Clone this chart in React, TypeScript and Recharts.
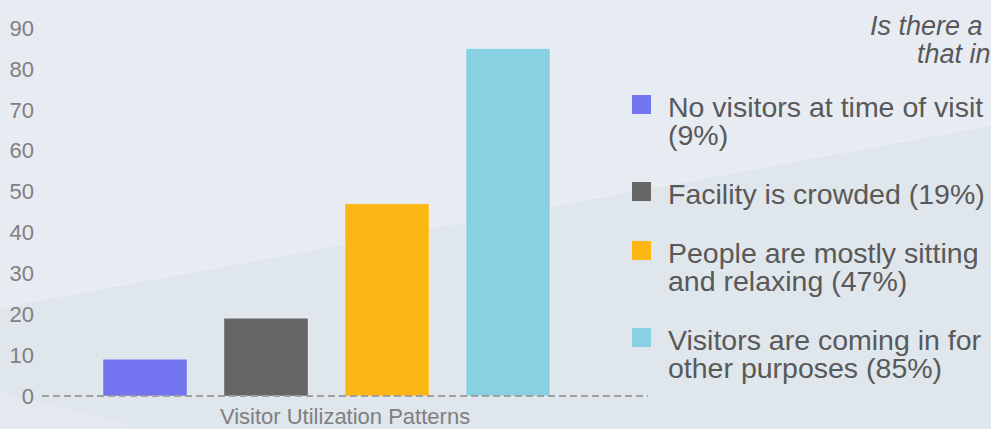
import React from "react";
import { BarChart, Bar, XAxis, YAxis, Legend } from "recharts";

const category = "Visitor Utilization Patterns";
const seriesNames = [
  "No visitors at time of visit",
  "Facility is crowded",
  "People are mostly sitting and relaxing",
  "Visitors are coming in for other purposes",
];
const seriesValues = [9, 19, 47, 85];
const seriesColors = ["#7375F0", "#666666", "#FDB714", "#89D0E2"];
const yTicks = [0, 10, 20, 30, 40, 50, 60, 70, 80, 90];
const titleLines = ["Is there a", "that in"];

const keys = seriesNames.map((_, i) => `s${i}`);
const chartData = [
  keys.reduce<Record<string, string | number>>(
    (row, k, i) => {
      row[k] = seriesValues[i];
      return row;
    },
    { name: category }
  ),
];

const FONT = '"Liberation Sans", Arial, sans-serif';

// legend keeps the series order (recharts 3 sorts by name otherwise)
function LegendList({ payload }: { payload?: { dataKey?: string; value: string; color: string }[] }) {
  const items = [...(payload || [])].sort(
    (a, b) => keys.indexOf(String(a.dataKey)) - keys.indexOf(String(b.dataKey))
  );
  return (
    <div>
      {items.map((item) => (
        <div key={item.value} style={{ display: "flex", alignItems: "flex-start", marginBottom: 31 }}>
          <span style={{ width: 19, height: 19, marginTop: 2, background: item.color, flex: "0 0 19px" }} />
          <span style={{ marginLeft: 17, width: 322, fontSize: 28.5, lineHeight: "28px", color: "#595959" }}>
            {item.value}
          </span>
        </div>
      ))}
    </div>
  );
}

export default function App() {
  return (
    <div
      style={{
        position: "absolute",
        left: 0,
        top: 0,
        width: 991,
        height: 429,
        overflow: "hidden",
        fontFamily: FONT,
        background: "#E7EBF2",
      }}
    >
      {/* slide background wedges */}
      <svg width={991} height={429} style={{ position: "absolute", left: 0, top: 0 }}>
        <polygon points="0,307 991,125 991,429 0,429" fill="#DFE6EC" />
        <line x1={0} y1={307} x2={991} y2={125} stroke="#EAEEF3" strokeWidth={1.5} />
        <polygon points="0,392 150,429 0,429" fill="#E3E9EE" />
      </svg>
      {titleLines.map((t, i) => (
        <div
          key={t}
          style={{
            position: "absolute",
            left: i === 0 ? 870 : 917,
            top: 12 + i * 28,
            fontSize: 27,
            lineHeight: "28px",
            fontStyle: "italic",
            color: "#595959",
            whiteSpace: "nowrap",
          }}
        >
          {t}
        </div>
      ))}
      <div style={{ position: "absolute", left: 0, top: 0 }}>
        <BarChart
          width={991}
          height={429}
          data={chartData}
          margin={{ top: 28, right: 343, bottom: 0, left: 0 }}
          barSize={84}
          barGap={37}
        >
          <YAxis
            width={42}
            domain={[0, 90]}
            ticks={yTicks}
            axisLine={false}
            tickLine={false}
            tick={{ fill: "#808080", fontSize: 22 }}
          />
          <XAxis
            dataKey="name"
            height={33}
            padding={{ left: 0, right: 37 }}
            tick={false}
            tickLine={false}
            axisLine={{ stroke: "#A0A0A0", strokeWidth: 2, strokeDasharray: "7 4" }}
            label={{ value: category, position: "insideBottom", offset: 5, fill: "#808080", fontSize: 22 }}
          />
          <Legend
            layout="vertical"
            align="center"
            verticalAlign="middle"
            wrapperStyle={{ left: 632, top: 93, width: 359 }}
            content={(props: any) => <LegendList payload={props.payload} />}
          />
          {keys.map((k, i) => (
            <Bar
              key={k}
              dataKey={k}
              name={`${seriesNames[i]} (${seriesValues[i]}%)`}
              fill={seriesColors[i]}
              stroke="rgba(255,255,255,0.35)"
              strokeWidth={1}
              isAnimationActive={false}
            />
          ))}
        </BarChart>
      </div>
    </div>
  );
}
